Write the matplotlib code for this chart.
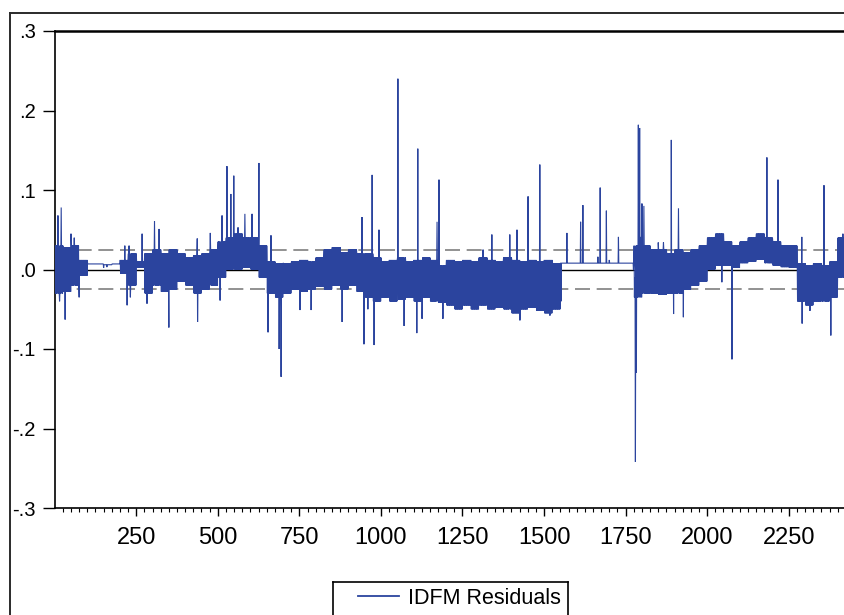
import numpy as np
import matplotlib
matplotlib.use("Agg")
import matplotlib.pyplot as plt
from matplotlib.lines import Line2D

# ---------------- data ----------------
block_size = 25  # observations per envelope block
band_hi = [
    .030, .028, .030, .012, .007, .007, .006, .007, .012, .020,
    .010, .020, .025, .020, .025, .020, .015, .018, .020, .025,
    .035, .040, .045, .040, .040, .030, .010, .008, .008, .010,
    .012, .010, .015, .025, .028, .022, .025, .020, .020, .015,
    .010, .012, .015, .010, .012, .015, .012, .005, .012, .010,
    .012, .010, .015, .012, .010, .015, .012, .010, .012, .010,
    .012, .008, .008, .008, .008, .008, .008, .008, .008, .008,
    .008, .030, .030, .025, .025, .020, .025, .022, .025, .030,
    .040, .045, .035, .030, .035, .040, .045, .040, .035, .030,
    .030, .008, .005, .008, .005, .010, .040,
]
band_lo = [
    -.030, -.028, -.020, -.008, .007, .007, .006, .007, -.005, -.020,
    .002, -.030, -.020, -.028, -.025, -.015, -.020, -.030, -.025, -.020,
    -.010, .000, .000, .002, .000, -.010, -.030, -.035, -.030, -.025,
    -.028, -.025, -.022, -.025, -.020, -.025, -.020, -.028, -.035, -.040,
    -.035, -.040, -.038, -.035, -.040, -.035, -.040, -.042, -.045, -.050,
    -.045, -.050, -.045, -.050, -.048, -.050, -.055, -.050, -.048, -.052,
    -.055, -.050, .008, .008, .008, .008, .008, .008, .008, .008,
    .008, -.035, -.030, -.030, -.032, -.030, -.030, -.025, -.020, -.015,
    .000, .005, .005, .002, .008, .010, .012, .008, .005, .003,
    .002, -.040, -.045, -.040, -.040, -.035, -.010,
]
spike_obs = [
    10, 15, 20, 32, 50, 60, 75,
    150, 160,
    215, 222, 228, 232, 268, 283, 306, 320, 350,
    437, 438, 477, 507,
    513, 528, 540, 549, 562, 583, 605, 626,
    654, 663, 688, 694, 752, 786,
    881, 942, 948, 960, 973, 979, 994,
    1052, 1071, 1110, 1113, 1126, 1172, 1178, 1190,
    1313, 1340, 1395, 1417, 1426, 1451, 1487, 1518,
    1552, 1570, 1612, 1619, 1665, 1672, 1691, 1700, 1728,
    1774, 1778, 1780, 1783, 1789, 1793, 1797, 1800, 1806,
    1850, 1866, 1890, 1897, 1912, 1927,
    2045, 2076, 2183, 2217,
    2290, 2291, 2315, 2358, 2379, 2416,
]
spike_val = [
    .068, -.040, .078, -.063, .045, .040, -.035,
    .002, .003,
    .030, -.045, .030, -.035, .045, -.043, .061, .051, -.073,
    .039, -.066, .046, -.039,
    .068, .130, .095, .118, .053, .070, .070, .134,
    -.079, .043, -.100, -.135, -.051, -.051,
    -.066, .066, -.094, -.050, .119, -.095, .050,
    .240, -.071, -.080, .152, -.062, .060, .113, -.062,
    .025, .044, .044, .050, -.064, .092, .132, -.058,
    -.040, .046, .060, .081, .016, .103, .074, .012, .041,
    .000, -.010, -.242, -.130, .182, .178, .041, .083, .080,
    .034, .034, .163, -.056, .077, -.060,
    -.016, -.113, .141, .113,
    .041, -.068, -.052, .106, -.083, .045,
]
band_sd = 0.025
series_name = "IDFM Residuals"
x_ticks = [250, 500, 750, 1000, 1250, 1500, 1750, 2000, 2250]
y_ticks = [-.3, -.2, -.1, .0, .1, .2, .3]
y_labels = ["-.3", "-.2", "-.1", ".0", ".1", ".2", ".3"]

# ---------------- build series ----------------
n_obs = len(band_hi) * block_size
obs = np.arange(1, n_obs + 1)
resid = np.empty(n_obs)
for k, (hi, lo) in enumerate(zip(band_hi, band_lo)):
    for j in range(block_size):
        resid[k * block_size + j] = hi if j % 2 == 0 else lo
for o, v in zip(spike_obs, spike_val):
    resid[o - 1] = v

# ---------------- figure ----------------
W, H = 845, 615
fig = plt.figure(figsize=(W / 100, H / 100), dpi=100)
fig.patch.set_facecolor("white")
font = ["Liberation Sans", "DejaVu Sans"]

def fx(px):
    return px / W

def fy(py):
    return 1 - py / H

ax_left, ax_right, ax_top, ax_bot = 55, 854, 31, 508
ax = fig.add_axes([fx(ax_left), fy(ax_bot), fx(ax_right - ax_left), (ax_bot - ax_top) / H])

blue = "#2b449e"
ax.plot(obs, resid, color=blue, lw=0.8, solid_joinstyle="miter", zorder=3)
ax.axhline(0, color="black", lw=1.0, zorder=2)
ax.axhline(band_sd, color="#7f7f7f", lw=1.2, dashes=(9, 4), zorder=2)
ax.axhline(-band_sd, color="#7f7f7f", lw=1.2, dashes=(9, 4), zorder=2)

ax.set_xlim(1, 2450)
ax.set_ylim(-.3, .3)
ax.set_xticks(x_ticks)
ax.set_xticks(np.arange(25, 2450, 25), minor=True)
ax.set_yticks(y_ticks)
ax.set_yticklabels(y_labels)
ax.set_xticklabels([str(t) for t in x_ticks])
for lab in ax.get_xticklabels():
    lab.set_fontfamily(font)
    lab.set_fontsize(17)
for lab in ax.get_yticklabels():
    lab.set_fontfamily(font)
    lab.set_fontsize(14.5)
ax.tick_params(axis="x", which="major", direction="out", length=6, width=1, pad=8, color="black")
ax.tick_params(axis="x", which="minor", direction="out", length=3, width=0.8, color="black")
ax.tick_params(axis="y", which="major", direction="out", length=9, width=1, pad=5, color="black")
ax.spines["right"].set_visible(False)
ax.spines["top"].set_linewidth(1.8)
ax.spines["left"].set_linewidth(1.2)
ax.spines["bottom"].set_linewidth(1.2)

# outer graph frame (cropped at right and bottom in the reference): left and top edges
frame_col = "#2a2a2a"
fig.add_artist(Line2D([fx(10), fx(10)], [fy(615), fy(13)], transform=fig.transFigure,
                      color=frame_col, lw=1.4, solid_capstyle="projecting"))
fig.add_artist(Line2D([fx(10), fx(845)], [fy(13), fy(13)], transform=fig.transFigure,
                      color=frame_col, lw=1.4, solid_capstyle="projecting"))

# legend box (bottom edge is cropped in the reference)
for xs, ys in (([333, 333], [615, 582]), ([333, 568], [582, 582]), ([568, 568], [582, 615])):
    fig.add_artist(Line2D([fx(v) for v in xs], [fy(v) for v in ys], transform=fig.transFigure,
                          color="black", lw=1.2, solid_capstyle="projecting"))
handle = Line2D([], [], color=blue, lw=1.3)
leg = fig.legend([handle], [series_name], loc="center left",
                 bbox_to_anchor=(fx(347), fy(598)), frameon=False,
                 handlelength=1.9, handletextpad=0.45, borderpad=0,
                 prop={"family": font, "size": 15.5})

fig.savefig("out.png", dpi=100, facecolor="white")
